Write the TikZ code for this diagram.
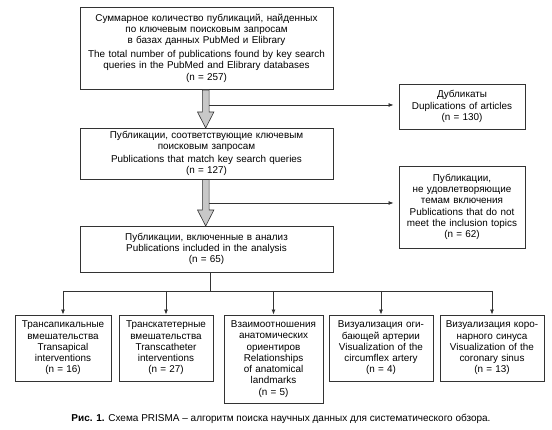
\documentclass[tikz,border=0pt]{standalone}
\usepackage{fontspec}
\setmainfont{Liberation Sans}
\usetikzlibrary{arrows.meta}
\definecolor{ln}{HTML}{333333}
\definecolor{ga}{HTML}{C8C8C8}
\tikzset{
  box/.style={draw=ln, line width=0.9pt, rectangle, align=center, inner sep=1pt,
    font=\fontsize{9.9}{11.3}\selectfont},
  conn/.style={draw=ln, line width=0.8pt},
  arr/.style={conn, -{Latex[length=5pt,width=4pt]}},
}
\newcommand{\grayarrow}[3]{% x, ytop, ybottom
  \filldraw[fill=ga, draw=ln, line width=0.6pt]
    (#1-3.4,#2) -- (#1+3.4,#2) -- (#1+3.4,#3-16) -- (#1+8.2,#3-16) -- (#1,#3) -- (#1-8.2,#3-16) -- (#1-3.4,#3-16) -- cycle;}
\begin{document}
\begin{tikzpicture}[x=1pt,y=-1pt]
\useasboundingbox (0,0) rectangle (552,430);
\fill[white] (0,0) rectangle (552,430);

\node[box, minimum width=253pt, minimum height=82pt, text width=249pt] (b1) at (206.5,48.5)
 {Суммарное количество публикаций, найденных\\ по ключевым поисковым запросам\\ в базах данных PubMed и Elibrary\\[2pt]
  The total number of publications found by key search\\ queries in the PubMed and Elibrary databases\\[1pt] (n = 257)};
\node[box, minimum width=126pt, minimum height=45pt, text width=122pt] (b2) at (462,106.5)
 {Дубликаты\\ Duplications of articles\\ (n = 130)};
\node[box, minimum width=253pt, minimum height=51pt, text width=249pt] (b3) at (206.5,153.5)
 {Публикации, соответствующие ключевым\\ поисковым запросам\\[1pt] Publications that match key search queries\\ (n = 127)};
\node[box, minimum width=126pt, minimum height=82pt, text width=122pt] (b4) at (462,207)
 {Публикации,\\ не удовлетворяющие\\ темам включения\\ Publications that do not\\ meet the inclusion topics\\ (n = 62)};
\node[box, minimum width=253pt, minimum height=46pt, text width=249pt] (b5) at (206.5,249)
 {Публикации, включенные в анализ\\ Publications included in the analysis\\ (n = 65)};

\node[box, minimum width=96pt, minimum height=66pt, text width=92pt] (c1) at (63,348)
 {Трансапикальные\\ вмешательства\\ Transapical\\ interventions\\ (n = 16)};
\node[box, minimum width=94pt, minimum height=66pt, text width=90pt] (c2) at (166,348)
 {Транскатетерные\\ вмешательства\\ Transcatheter\\ interventions\\ (n = 27)};
\node[box, minimum width=99pt, minimum height=88pt, text width=95pt] (c3) at (273.5,359)
 {Взаимоотношения\\ анатомических\\ ориентиров\\ Relationships\\ of anatomical\\ landmarks\\ (n = 5)};
\node[box, minimum width=104pt, minimum height=66pt, text width=100pt] (c4) at (381,348)
 {Визуализация оги-\\ бающей артерии\\ Visualization of the\\ circumflex artery\\ (n = 4)};
\node[box, minimum width=104pt, minimum height=66pt, text width=100pt] (c5) at (492,348)
 {Визуализация коро-\\ нарного синуса\\ Visualization of the\\ coronary sinus\\ (n = 13)};

% gray arrows
\grayarrow{205.7}{90}{128}
\grayarrow{205.7}{179.5}{226}
\coordinate (s1) at (209.1,105);
\coordinate (s2) at (209.1,203);
\draw[arr, shorten >=5pt] (s1) -- (b2.west |- s1);
\draw[arr, shorten >=5pt] (s2) -- (b4.west |- s2);

% distribution
\coordinate (h) at (210,291);
\draw[conn] (b5.south -| h) -- (h);
\draw[conn] (c1.north |- h) -- (c5.north |- h);
\foreach \n in {c1,c2,c3,c4,c5} \draw[arr] (\n.north |- h) -- (\n.north);

\node[font=\fontsize{10}{11}\selectfont] (cap) at (281,419)
 {\textbf{Рис. 1.} Схема PRISMA – алгоритм поиска научных данных для систематического обзора.};
\end{tikzpicture}
\end{document}
